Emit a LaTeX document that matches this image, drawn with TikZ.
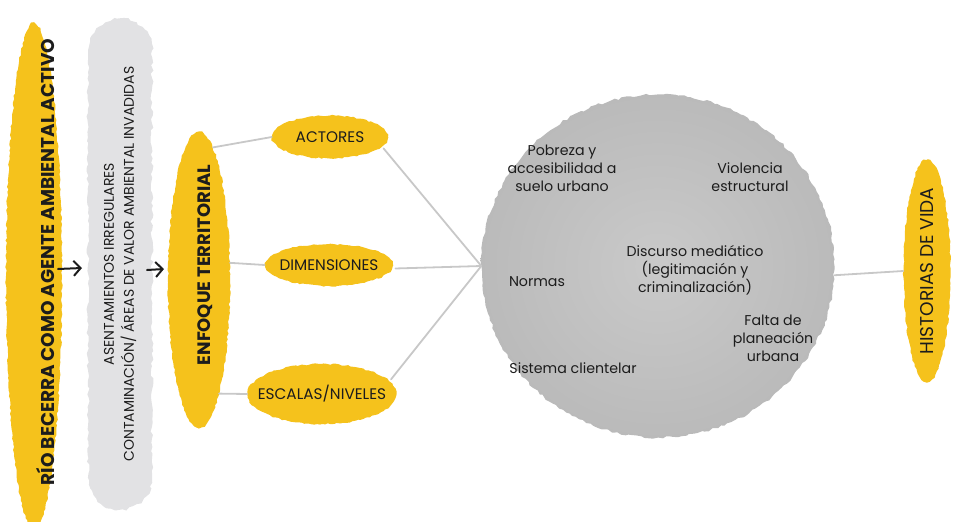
\documentclass[tikz,border=0pt]{standalone}
\usepackage{fontspec}
\setmainfont{Poppins}
\usetikzlibrary{shapes.geometric,shapes.misc,decorations.pathmorphing,arrows.meta}
\definecolor{amarillo}{RGB}{245,194,28}
\definecolor{grisclaro}{RGB}{226,226,228}
\definecolor{linea}{RGB}{200,200,200}
\definecolor{tinta}{RGB}{28,28,28}
\begin{document}
\begin{tikzpicture}[x=1pt, y=-1pt, line join=round, line cap=round, >={Straight Barb[length=7pt,width=15pt]},
	rough/.style={decorate, decoration={random steps, segment length=3pt, amplitude=0.8pt}},
	amar/.style={ellipse, fill=amarillo, inner sep=0pt, text=tinta, rough},
	caja/.style={amar, inner xsep=-16pt, font=\fontsize{15.3}{18}\selectfont},
	texto/.style={align=center, text=tinta, font=\fontsize{14.2}{18}\selectfont},
	enlace/.style={draw=linea, line width=1.8pt},
	flecha/.style={->, line width=2pt, draw=tinta}]
	\useasboundingbox (0,0) rectangle (953,522);
	% columna izquierda
	\node[amar, minimum width=56, minimum height=506] (rio) at (34,276) {};
	\node[rotate=90, text=tinta, font=\bfseries\fontsize{18.5}{20}\selectfont] (riotxt) at (46,262) {RÍO BECERRA COMO AGENTE AMBIENTAL ACTIVO};
	\node[rounded rectangle, rotate=90, fill=grisclaro, minimum width=498, minimum height=64, inner ysep=0pt, align=center, text=tinta, font=\fontsize{14}{20}\selectfont,
		decorate, decoration={random steps, segment length=4pt, amplitude=1.5pt}] (asent) at (120,264) {ASENTAMIENTOS IRREGULARES\\CONTAMINACIÓN/ ÁREAS DE VALOR AMBIENTAL INVADIDAS};
	\node[amar, minimum width=62, minimum height=296] (enfoque) at (199,280) {};
	\node[rotate=90, text=tinta, font=\bfseries\fontsize{18}{20}\selectfont] (enfoquetxt) at (205,265) {ENFOQUE TERRITORIAL};
	\coordinate (f1a) at (58,269); \coordinate (f1b) at (82,268);
	\coordinate (f2a) at (147,270); \coordinate (f2b) at (164,269);
	\draw[flecha] (f1a) -- (f1b);
	\draw[flecha] (f2a) -- (f2b);
	% ramas
	\node[caja, minimum width=116, minimum height=43] (actores) at (330,137) {ACTORES};
	\node[caja, minimum width=128, minimum height=42] (dimensiones) at (329,265) {DIMENSIONES};
	\node[caja, minimum width=149, minimum height=60] (escalas) at (322,394) {ESCALAS/NIVELES};
	% nucleo
	\node[ellipse, shade, inner color=black!21, outer color=black!27, minimum width=353, minimum height=343,
		decorate, decoration={random steps, segment length=4pt, amplitude=1.2pt}] (nucleo) at (658,266) {};
	\node[amar, rotate=90, inner xsep=-18pt, minimum width=222, minimum height=47, font=\fontsize{18.5}{20}\selectfont] (historias) at (927,271) {HISTORIAS DE VIDA};
	\draw[enlace] (enfoque.84) -- (actores.west);
	\draw[enlace] (enfoque.29) -- (dimensiones.west);
	\draw[enlace] (enfoque.-80) -- (escalas.west);
	\foreach \n/\a in {actores/-12, dimensiones/-3, escalas/12}
		\draw[enlace] ([shift={(\a:3pt)}]\n.\a) -- (nucleo.west);
	\draw[enlace] (nucleo.-3) -- (historias.north);
	\path
	(562,168) node[texto] (pobreza) {Pobreza y\\accesibilidad a\\suelo urbano}
	(750,177) node[texto] (violencia) {Violencia\\estructural}
	(695,270) node[texto] (discurso) {Discurso mediático\\(legitimación y\\criminalización)}
	(537,282) node[texto] (normas) {Normas}
	(773,338) node[texto] (falta) {Falta de\\planeación\\urbana}
	(573,368) node[texto] (sistema) {Sistema clientelar};
\end{tikzpicture}
\end{document}
